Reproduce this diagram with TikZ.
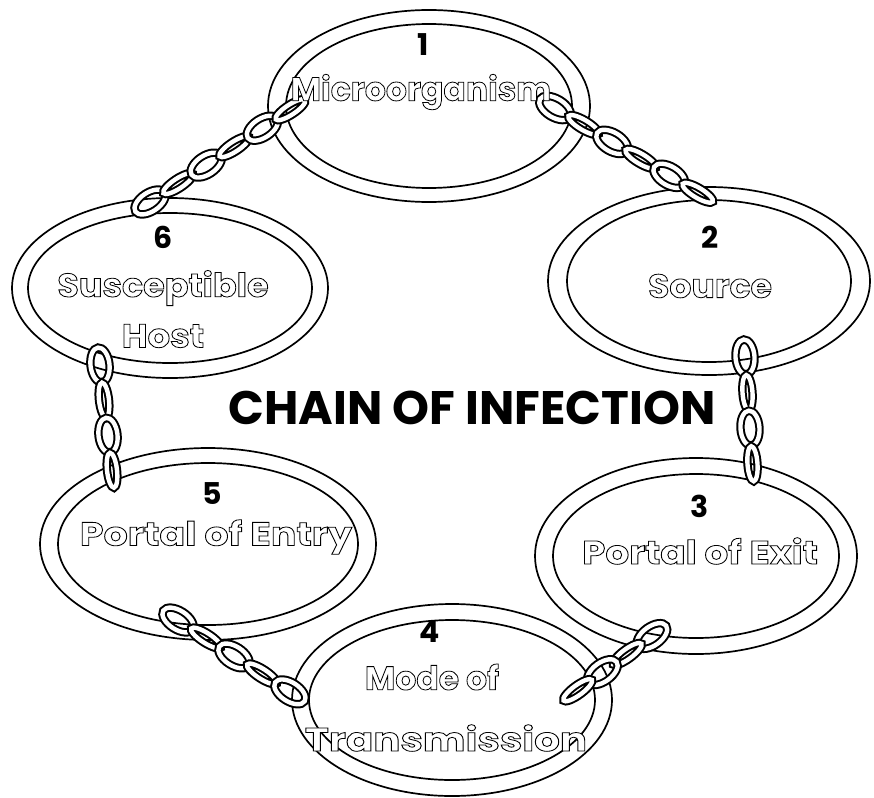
\documentclass[tikz,border=0pt]{standalone}
\usepackage{fontspec}
\usepackage{graphicx}
\setmainfont{Poppins}
\usetikzlibrary{calc}

% outlined text: white fill, thin black stroke (PDF text render mode 2)
\newcommand\outl[2]{\scalebox{#1}[1]{\special{pdf:literal direct 2 Tr 0.8 w 1 1 1 rg 0 0 0 RG}#2\special{pdf:literal direct 0 Tr 0 0 0 rg}}}

\tikzset{
  ringout/.style={draw=black, line width=1.7pt, fill=white},
  ringin/.style={draw=black, line width=1.7pt},
  num/.style={font=\bfseries\fontsize{30}{30}\selectfont, text=black, inner sep=0pt},
  lbl/.style={font=\bfseries\fontsize{33}{33}\selectfont, text=black, inner sep=0pt},
  titlefont/.style={font=\bfseries\fontsize{47}{47}\selectfont, text=black, inner sep=0pt},
  lface/.style={draw=black, line width=2pt, double=white, double distance=4.4pt},
}

\newcommand\chainring[6]{%
  \coordinate (#1) at (#2);
  \draw[ringout] (#1) ellipse ({#3} and {#4});
  \draw[ringin] (#1) ellipse ({#5} and {#6});
}

\newcommand\chainlinks[5]{%
  \coordinate (#1) at (#2);
  \begin{scope}[shift={(#1)}, rotate=#3]
    \pgfmathsetmacro\stp{#4/(#5-1)}
    \foreach \i in {1,...,#5} {
      \pgfmathsetmacro\px{(\i-1)*\stp}
      \ifodd\i
        \draw[lface] (\px,0) ellipse (17.5 and 9.5);
      \else
        \draw[lface] (\px,0) ellipse (17.5 and 5);
      \fi
    }
  \end{scope}
}

\begin{document}
\begin{tikzpicture}[x=1pt,y=-1pt]
  \fill[white] (0,0) rectangle (874,797);
  \useasboundingbox (0,0) rectangle (874,797);

  % rings
  \chainring{r1}{429,106}{161}{96}{143}{82}
  \chainring{r2}{709,281}{161}{94}{142}{81}
  \chainring{r3}{696,556}{161}{98}{143}{82}
  \chainring{r4}{452,700}{160}{96}{143}{80}
  \chainring{r5}{208,544}{168}{96}{150}{81}
  \chainring{r6}{170,288}{158}{90}{142}{75}

  % chains
  \chainlinks{cA}{150,202}{33.3}{168}{6}
  \chainlinks{cB}{555,108}{-30.7}{166}{6}
  \chainlinks{cC}{745,357}{-86}{107}{4}
  \chainlinks{cD}{652,636}{-143.9}{92}{4}
  \chainlinks{cE}{178,620}{-32.7}{133}{5}
  \chainlinks{cF}{100,365}{-83.5}{106}{4}

  % texts
  \node[num] (n1) at (423,45) {1};
  \node[lbl] (t1) at (421,92) {\outl{1.0}{Microorganism}};
  \node[num] (n2) at (710,237) {2};
  \node[lbl] (t2) at (710,286) {\outl{1.05}{Source}};
  \node[num] (n3) at (700,506) {3};
  \node[lbl] (t3) at (700,551) {\outl{1.13}{Portal of Exit}};
  \node[num] (n4) at (430,632) {4};
  \node[lbl] (t4a) at (432,677) {\outl{1.0}{Mode of}};
  \node[lbl] (t4b) at (446,738) {\outl{1.22}{Transmission}};
  \node[num] (n5) at (212,494) {5};
  \node[lbl] (t5) at (216,537) {\outl{1.15}{Portal of Entry}};
  \node[num] (n6) at (163,237) {6};
  \node[lbl] (t6a) at (163,288) {\outl{1.06}{Susceptible}};
  \node[lbl] (t6b) at (163,336) {\outl{1.07}{Host}};

  \node[titlefont] (title) at (472,408) {CHAIN OF INFECTION};
\end{tikzpicture}
\end{document}
